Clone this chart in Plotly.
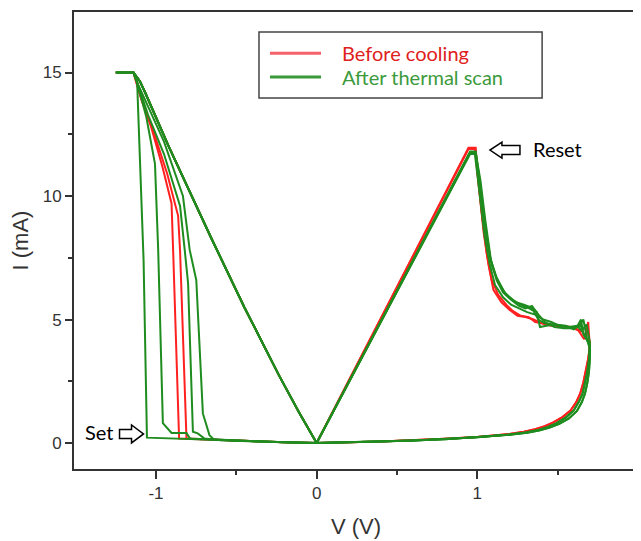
import plotly.graph_objects as go

# ---------------- data ----------------
# positive LRS rise starts at the origin, reset segments start at the peak
POS_START_V = [0.0]
POS_START_I = [0.0]

RESET_R1_V = [0.945, 0.99, 1.00, 1.03, 1.06, 1.09, 1.13, 1.18, 1.22, 1.27, 1.32, 1.36, 1.40, 1.45, 1.50, 1.56, 1.61, 1.655, 1.675, 1.69, 1.70]
RESET_R1_I = [11.95, 11.95, 11.0, 9.2, 7.6, 6.6, 6.0, 5.6, 5.35, 5.15, 5.1, 4.9, 4.85, 4.8, 4.75, 4.7, 4.65, 4.5, 4.3, 4.9, 3.9]
RESET_R2_V = [0.945, 0.985, 1.01, 1.04, 1.07, 1.10, 1.15, 1.20, 1.25, 1.30, 1.35, 1.40, 1.46, 1.52, 1.58, 1.63, 1.665, 1.685, 1.70]
RESET_R2_I = [11.9, 11.9, 10.3, 8.5, 7.2, 6.2, 5.7, 5.4, 5.15, 5.1, 5.0, 4.85, 4.75, 4.75, 4.7, 4.55, 4.2, 4.6, 4.0]
RESET_G1_V = [0.955, 0.99, 1.02, 1.05, 1.08, 1.12, 1.17, 1.22, 1.27, 1.31, 1.35, 1.38, 1.42, 1.47, 1.53, 1.58, 1.62, 1.645, 1.66, 1.68, 1.70]
RESET_G1_I = [11.75, 11.75, 10.4, 8.8, 7.5, 6.7, 6.1, 5.8, 5.6, 5.5, 5.35, 5.0, 4.85, 4.8, 4.75, 4.7, 4.7, 5.0, 4.4, 4.2, 3.9]
RESET_G2_V = [0.955, 0.99, 1.03, 1.06, 1.09, 1.13, 1.18, 1.24, 1.29, 1.33, 1.37, 1.39, 1.43, 1.48, 1.55, 1.60, 1.64, 1.67, 1.70]
RESET_G2_I = [11.8, 11.8, 9.8, 8.2, 7.2, 6.5, 6.0, 5.7, 5.6, 5.5, 5.3, 4.7, 4.75, 4.8, 4.75, 4.6, 4.8, 4.3, 4.0]
RESET_G3_V = [0.955, 0.985, 1.015, 1.045, 1.075, 1.11, 1.16, 1.21, 1.26, 1.31, 1.36, 1.41, 1.46, 1.51, 1.57, 1.62, 1.65, 1.68, 1.70]
RESET_G3_I = [11.7, 11.7, 10.1, 8.4, 7.3, 6.4, 5.9, 5.6, 5.45, 5.3, 5.2, 5.0, 4.9, 4.75, 4.7, 4.75, 4.55, 4.8, 4.1]
RESET_G4_V = [0.955, 0.99, 1.02, 1.05, 1.085, 1.12, 1.16, 1.21, 1.26, 1.30, 1.34, 1.38, 1.42, 1.48, 1.54, 1.59, 1.63, 1.66, 1.68, 1.70]
RESET_G4_I = [11.75, 11.75, 10.6, 9.0, 7.4, 6.6, 6.1, 5.8, 5.55, 5.45, 5.55, 5.2, 4.9, 4.7, 4.65, 4.65, 4.7, 5.0, 4.3, 3.8]

# HRS return branch, 1.7 V -> 0 V
HRS_RET_RED_V = [1.70, 1.69, 1.675, 1.66, 1.64, 1.615, 1.58, 1.53, 1.47, 1.42, 1.36, 1.29, 1.20, 1.00, 0.80, 0.60, 0.40, 0.20, 0.0]
HRS_RET_RED_I = [3.9, 3.4, 2.9, 2.45, 2.0, 1.65, 1.32, 1.05, 0.83, 0.68, 0.56, 0.46, 0.37, 0.25, 0.17, 0.11, 0.06, 0.03, 0.0]
HRS_RET_GRN_V = [1.70, 1.695, 1.685, 1.67, 1.655, 1.63, 1.60, 1.55, 1.49, 1.44, 1.38, 1.30, 1.20, 1.00, 0.80, 0.60, 0.40, 0.20, 0.0]
HRS_RET_GRN_I = [3.9, 3.4, 2.9, 2.45, 2.0, 1.65, 1.32, 1.03, 0.80, 0.65, 0.53, 0.43, 0.35, 0.24, 0.16, 0.10, 0.06, 0.03, 0.0]
HRS_RET_GRN2_V = [1.70, 1.70, 1.695, 1.685, 1.67, 1.65, 1.62, 1.57, 1.51, 1.45, 1.39, 1.31, 1.20, 1.00, 0.80, 0.60, 0.40, 0.20, 0.0]
HRS_RET_GRN2_I = [3.9, 3.4, 2.9, 2.45, 2.0, 1.65, 1.30, 1.0, 0.78, 0.63, 0.52, 0.42, 0.34, 0.23, 0.15, 0.10, 0.06, 0.03, 0.0]

# negative HRS branch, 0 V -> -0.6 V
NEG_HRS_V = [-0.2, -0.4, -0.6]
NEG_HRS_I = [0.03, 0.07, 0.11]

# set transitions (to compliance)
SET_G1_V = [-0.80, -0.95, -1.056, -1.077, -1.117, -1.14]
SET_G1_I = [0.16, 0.19, 0.22, 7.4, 14.6, 15.0]
SET_G2_V = [-0.77, -0.79, -0.81, -0.903, -0.957, -0.986, -1.006, -1.06, -1.117, -1.14]
SET_G2_I = [0.17, 0.20, 0.41, 0.41, 0.81, 7.8, 11.3, 13.2, 14.6, 15.0]
SET_R1_V = [-0.79, -0.856, -0.893, -0.903, -0.96, -1.03, -1.09, -1.125, -1.14]
SET_R1_I = [0.16, 0.18, 7.8, 9.7, 11.2, 12.8, 13.9, 14.75, 15.0]
SET_R2_V = [-0.76, -0.81, -0.85, -0.862, -0.93, -1.02, -1.09, -1.125, -1.14]
SET_R2_I = [0.15, 0.18, 7.8, 9.2, 10.9, 12.7, 13.9, 14.75, 15.0]
SET_G3_V = [-0.66, -0.70, -0.74, -0.77, -0.80, -0.821, -0.85, -0.95, -1.05, -1.117, -1.14]
SET_G3_I = [0.15, 0.19, 0.39, 0.46, 6.47, 7.82, 9.6, 11.7, 13.3, 14.6, 15.0]
SET_G4_V = [-0.64, -0.667, -0.708, -0.749, -0.79, -0.832, -0.95, -1.05, -1.117, -1.14]
SET_G4_I = [0.15, 0.32, 1.2, 6.6, 7.82, 10.0, 12.2, 13.6, 14.6, 15.0]

# LRS return, compliance -> 0 V
LRS_RET_V = [-1.25, -1.14, -1.10, -1.068, -0.92, -0.78, -0.656, -0.45, -0.235, -0.11, 0.0]
LRS_RET_I = [15.0, 15.0, 14.65, 14.2, 12.0, 10.0, 8.3, 5.5, 2.75, 1.25, 0.0]

X_TICKS = [-1, 0, 1, 2]
X_MINOR = [-0.5, 0.5, 1.5]
Y_TICKS = [0, 5, 10, 15]
Y_MINOR = [2.5, 7.5, 12.5]

LEGEND_LABELS = ["Before cooling", "After thermal scan"]

# annotation anchor points (data units)
SET_LABEL_XY = (-1.354, 0.45)
SET_ARROW_XY = (-1.152, 0.37)
RESET_LABEL_XY = (1.502, 11.9)
RESET_ARROW_XY = (1.172, 11.86)

RED = "#FF2020"
GREEN = "#1E8C1E"


def cycle(reset_v, reset_i, ret_v, ret_i, set_v, set_i):
    v = POS_START_V + reset_v + ret_v + NEG_HRS_V + set_v + LRS_RET_V
    i = POS_START_I + reset_i + ret_i + NEG_HRS_I + set_i + LRS_RET_I
    return v, i


red_cycles = [
    cycle(RESET_R1_V, RESET_R1_I, HRS_RET_RED_V, HRS_RET_RED_I, SET_R1_V, SET_R1_I),
    cycle(RESET_R2_V, RESET_R2_I, HRS_RET_RED_V, HRS_RET_RED_I, SET_R2_V, SET_R2_I),
]
green_cycles = [
    cycle(RESET_G1_V, RESET_G1_I, HRS_RET_GRN_V, HRS_RET_GRN_I, SET_G1_V, SET_G1_I),
    cycle(RESET_G2_V, RESET_G2_I, HRS_RET_GRN2_V, HRS_RET_GRN2_I, SET_G2_V, SET_G2_I),
    cycle(RESET_G3_V, RESET_G3_I, HRS_RET_GRN_V, HRS_RET_GRN_I, SET_G3_V, SET_G3_I),
    cycle(RESET_G4_V, RESET_G4_I, HRS_RET_GRN2_V, HRS_RET_GRN2_I, SET_G4_V, SET_G4_I),
]

fig = go.Figure()
for v, i in red_cycles:
    fig.add_trace(go.Scatter(x=v, y=i, mode="lines", name=LEGEND_LABELS[0],
                             line=dict(color=RED, width=2), showlegend=False))
for v, i in green_cycles:
    fig.add_trace(go.Scatter(x=v, y=i, mode="lines", name=LEGEND_LABELS[1],
                             line=dict(color=GREEN, width=2), showlegend=False))

AXIS_COLOR = "#333333"
tick_font = dict(family="Arial, Liberation Sans, sans-serif", size=17, color="#333333")
title_font = dict(family="Arial, Liberation Sans, sans-serif", size=22, color="#333333")

fig.update_xaxes(range=[-1.51, 2.0], tickvals=X_TICKS, ticktext=[str(t) for t in X_TICKS],
                 ticks="outside", ticklen=8, tickwidth=2, tickcolor=AXIS_COLOR,
                 minor=dict(tickvals=X_MINOR, ticks="outside", ticklen=4, tickwidth=2, tickcolor=AXIS_COLOR),
                 showline=True, linewidth=2, linecolor=AXIS_COLOR, mirror=True,
                 showgrid=False, zeroline=False, tickfont=tick_font, automargin=False,
                 ticklabeloverflow="allow",
                 title=dict(text="V (V)", font=title_font, standoff=16))
fig.update_yaxes(range=[-1.05, 17.45], tickvals=Y_TICKS, ticktext=[str(t) for t in Y_TICKS],
                 ticks="outside", ticklen=7, tickwidth=2, tickcolor=AXIS_COLOR,
                 minor=dict(tickvals=Y_MINOR, ticks="outside", ticklen=4, tickwidth=2, tickcolor=AXIS_COLOR),
                 showline=True, linewidth=2, linecolor=AXIS_COLOR, mirror=True,
                 showgrid=False, zeroline=False, tickfont=tick_font, automargin=False,
                 title=dict(text="I (mA)", font=title_font, standoff=8))

label_font = "Lato, DejaVu Sans, sans-serif"
RIGHT_ARROW = "M -12,-4.5 L 0,-4.5 L 0,-9 L 12,0 L 0,9 L 0,4.5 L -12,4.5 Z"
LEFT_ARROW = "M 15,-4.5 L -3,-4.5 L -3,-8 L -15,0 L -3,8 L -3,4.5 L 15,4.5 Z"
shapes = [
    dict(type="rect", xref="paper", yref="paper", x0=0.328, x1=0.830, y0=0.812, y1=0.956,
         line=dict(color="#444444", width=1.5), fillcolor="white"),
    dict(type="line", xref="paper", yref="paper", x0=0.3475, x1=0.438, y0=0.910, y1=0.910,
         line=dict(color="#F5626A", width=3)),
    dict(type="line", xref="paper", yref="paper", x0=0.3475, x1=0.438, y0=0.858, y1=0.858,
         line=dict(color="#3A9A3A", width=3)),
    dict(type="path", xref="x", yref="y", xsizemode="pixel", ysizemode="pixel",
         xanchor=SET_ARROW_XY[0], yanchor=SET_ARROW_XY[1], path=RIGHT_ARROW,
         line=dict(color="black", width=1.5), fillcolor="white"),
    dict(type="path", xref="x", yref="y", xsizemode="pixel", ysizemode="pixel",
         xanchor=RESET_ARROW_XY[0], yanchor=RESET_ARROW_XY[1], path=LEFT_ARROW,
         line=dict(color="black", width=1.5), fillcolor="white"),
]
annotations = [
    dict(xref="paper", yref="paper", x=0.4716, y=0.910, xanchor="left", yanchor="middle",
         text=LEGEND_LABELS[0], showarrow=False, font=dict(family=label_font, size=20, color="#E02020")),
    dict(xref="paper", yref="paper", x=0.4716, y=0.858, xanchor="left", yanchor="middle",
         text=LEGEND_LABELS[1], showarrow=False, font=dict(family=label_font, size=20, color="#3C9A3C")),
    dict(x=SET_LABEL_XY[0], y=SET_LABEL_XY[1], text="Set", showarrow=False, xanchor="center", yanchor="middle",
         font=dict(family=label_font, size=20, color="black")),
    dict(x=RESET_LABEL_XY[0], y=RESET_LABEL_XY[1], text="Reset", showarrow=False, xanchor="center", yanchor="middle",
         font=dict(family=label_font, size=20, color="black")),
]

# the page body adds an 8px margin, so the figure is sized to fit the 641x541 window
fig.update_layout(width=633, height=533, margin=dict(l=66, r=3, t=4, b=72, autoexpand=False),
                  paper_bgcolor="white", plot_bgcolor="white",
                  shapes=shapes, annotations=annotations, showlegend=False)

fig.write_html("out.html")
